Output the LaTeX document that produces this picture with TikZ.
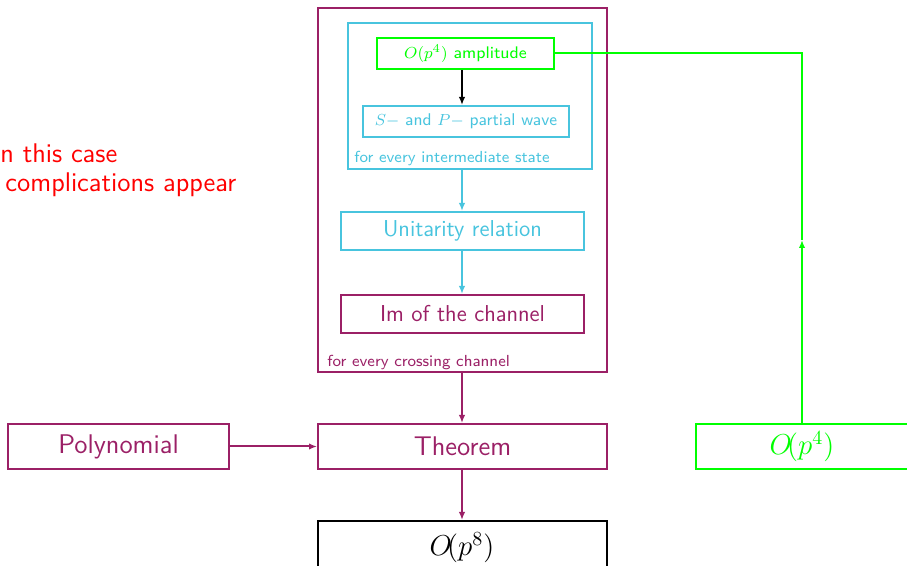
\documentclass[tikz,border=0pt]{standalone}
\usetikzlibrary{arrows.meta}
\definecolor{plum}{RGB}{155,32,102}
\definecolor{sky}{RGB}{72,196,222}
\definecolor{lime}{RGB}{0,255,0}
\definecolor{red}{RGB}{255,0,0}
\begin{document}
\begin{tikzpicture}[x=0.5pt,y=-0.5pt,
  box/.style={draw,line width=1pt,inner sep=0pt,font=\sffamily},
  bigtxt/.style={font=\sffamily\fontsize{13.5}{16}\selectfont},
  midtxt/.style={font=\sffamily\fontsize{11.5}{13}\selectfont},
  smalltxt/.style={font=\sffamily\fontsize{8.5}{10}\selectfont},
  amptxt/.style={font=\sffamily\fontsize{8.4}{10}\selectfont},
  tinytxt/.style={font=\sffamily\fontsize{8}{10}\selectfont},
  mathtxt/.style={font=\fontsize{14}{16}\selectfont,anchor=base},
  arr/.style={line width=1pt,-{Latex[length=4pt,width=3.2pt]}},
  ln/.style={line width=1pt}]
\useasboundingbox (0,0) rectangle (907,566);
\clip (0,0) rectangle (907,566);
% outer and inner frames
\node[box,plum,minimum width=144.5pt,minimum height=182pt] (outer) at (462.5,190) {};
\node[box,sky,minimum width=122pt,minimum height=73pt] (inner) at (470,96) {};
% inner nodes
\node[box,lime,amptxt,minimum width=88.5pt,minimum height=15.5pt] (amp) at (465.5,53.5) {$O(p^4)$ amplitude};
\node[box,sky,smalltxt,minimum width=103pt,minimum height=15.5pt] (sp) at (466,121.5) {$S-$ and $P-$ partial wave};
\node[sky,tinytxt,anchor=base west,inner sep=0pt] (lblstate) at (354,163) {for every intermediate state};
\node[box,sky,midtxt,minimum width=121.5pt,minimum height=19pt] (unit) at (462.5,231) {Unitarity relation};
\node[box,plum,midtxt,minimum width=121.5pt,minimum height=19pt] (im) at (462.5,314) {Im of the channel};
\node[plum,tinytxt,anchor=base west,inner sep=0pt] (lblcross) at (327,367) {for every crossing channel};
% bottom row
\node[box,plum,bigtxt,minimum width=110.5pt,minimum height=22.5pt] (poly) at (118.5,446.5) {Polynomial};
\node[box,plum,bigtxt,minimum width=144.5pt,minimum height=22.5pt] (thm) at (462.5,446.5) {Theorem};
\node[box,black,minimum width=144.5pt,minimum height=23pt] (op8) at (462.5,544) {};
\node[mathtxt] (op8txt) at (462,556) {$O\!(p^8)$};
\node[box,lime,minimum width=106pt,minimum height=22.5pt] (op4) at (802,446.5) {};
\node[mathtxt,lime] (op4txt) at (802,455) {$O\!(p^4)$};
% red remark
\node[red,bigtxt,anchor=base west,inner sep=0pt] (rem1) at (0,163) {n this case};
\node[red,bigtxt,anchor=base west,inner sep=0pt] (rem2) at (5,192) {complications appear};
% connectors
\coordinate (col) at (462,0);
\draw[arr,black] (amp.south -| col) -- (sp.north -| col);
\draw[arr,sky] (inner.south -| col) -- (unit.north -| col);
\draw[arr,sky] (unit.south -| col) -- (im.north -| col);
\draw[arr,plum] (outer.south -| col) -- (thm.north -| col);
\draw[arr,plum] (thm.south -| col) -- (op8.north -| col);
\draw[arr,plum] (poly.east) -- (thm.west);
\coordinate (gmid) at (802,240);
\draw[arr,lime] (op4.north) -- (gmid);
\draw[ln,lime] (gmid) |- (amp.east);
\end{tikzpicture}
\end{document}
